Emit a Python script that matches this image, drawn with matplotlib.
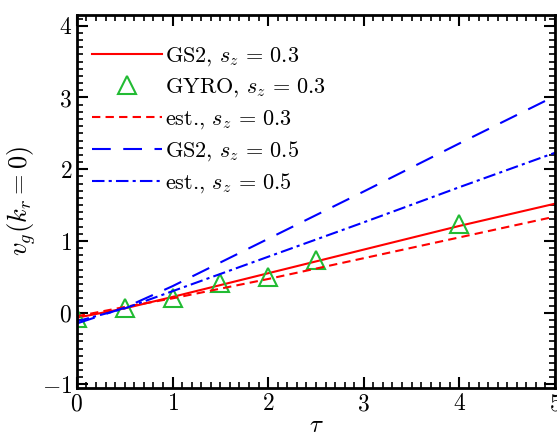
import matplotlib
matplotlib.use("Agg")
import matplotlib.pyplot as plt
from matplotlib.ticker import MultipleLocator

plt.rcParams['mathtext.fontset'] = 'cm'
plt.rcParams['font.family'] = 'serif'
plt.rcParams['font.serif'] = ['cmr10', 'DejaVu Serif']
plt.rcParams['axes.formatter.use_mathtext'] = True

tau_line = [0, 0.5, 1, 2, 3, 4, 5]
gs2_03 = [-0.07, 0.06, 0.22, 0.55, 0.88, 1.21, 1.52]
est_03 = [-0.05, 0.08, 0.20, 0.47, 0.76, 1.05, 1.34]
gs2_05 = [-0.15, 0.07, 0.37, 1.03, 1.69, 2.36, 3.02]
est_05 = [-0.12, 0.06, 0.30, 0.78, 1.26, 1.75, 2.23]

tau_gyro = [0, 0.5, 1, 1.5, 2, 2.5, 4]
gyro_03 = [-0.07, 0.06, 0.20, 0.41, 0.50, 0.73, 1.24]

xticks = [0, 1, 2, 3, 4, 5]
yticks = [-1, 0, 1, 2, 3, 4]

fig = plt.figure(figsize=(5.57, 4.36), dpi=100)
ax = fig.add_axes([0.138, 0.110, 0.8585, 0.8556])

ax.plot(tau_line, gs2_03, color='#ff0000', lw=1.5, ls='-',
        label=r'$\mathrm{GS2},\, s_z\, =\, 0.3$')
ax.plot(tau_gyro, gyro_03, ls='none', marker='^', ms=13, mfc='none',
        mec='#22bb33', mew=1.5, label=r'$\mathrm{GYRO},\, s_z\, =\, 0.3$')
ax.plot(tau_line, est_03, color='#ff0000', lw=1.5, ls=(0, (4, 2.5)),
        label=r'est., $s_z\, =\, 0.3$')
ax.plot(tau_line, gs2_05, color='#0000ff', lw=1.5, ls=(0, (9, 6)),
        label=r'$\mathrm{GS2},\, s_z\, =\, 0.5$')
ax.plot(tau_line, est_05, color='#0000ff', lw=1.5, ls=(0, (6, 2, 1.5, 2)),
        label=r'est., $s_z\, =\, 0.5$')

ax.set_xlim(0, 5)
ax.set_ylim(-1.05, 4.15)
ax.set_xticks(xticks)
ax.set_yticks(yticks)
ax.set_xticklabels([r'$%d$' % v for v in xticks])
ax.set_yticklabels([r'$%d$' % v for v in yticks])
ax.xaxis.set_minor_locator(MultipleLocator(0.1))
ax.yaxis.set_minor_locator(MultipleLocator(0.1))
ax.tick_params(which='both', direction='in', top=True, right=True,
               labelsize=17)
ax.tick_params(which='major', length=8, width=1.5)
ax.tick_params(which='minor', length=4, width=1.2)
for s in ax.spines.values():
    s.set_linewidth(2)

ax.set_xlabel(r'$\tau$', fontsize=18, labelpad=0)
ax.set_ylabel(r'$v_g(k_r=0)$', fontsize=19, labelpad=3)

leg = ax.legend(loc='upper left', frameon=False, fontsize=16,
                handlelength=3.15, handletextpad=0.12, labelspacing=0.38,
                borderaxespad=0.3, bbox_to_anchor=(0.0, 0.96))

fig.savefig('out.png', dpi=100)
